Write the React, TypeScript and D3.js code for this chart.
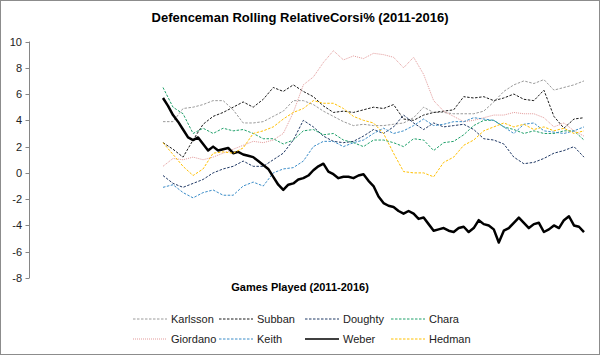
import React from "react";
import * as d3 from "d3";

const yTicks = [10, 8, 6, 4, 2, 0, -2, -4, -6, -8];

const karlsson = [3.9,3.9,4.9,5.0,5.2,5.5,5.5,4.8,3.8,3.8,3.9,4.3,4.7,5.5,5.5,5.2,4.7,4.3,3.9,3.6,3.7,3.6,3.6,3.7,3.8,4.2,5.0,4.6,4.6,4.5,4.5,4.5,4.7,5.4,6.2,6.7,7.0,6.8,7.1,6.3,6.5,6.7,7.0];
const subban = [2.3,1.8,1.2,2.5,3.7,4.3,4.6,5.0,5.4,5.0,5.6,6.5,6.2,6.7,6.2,5.8,5.1,4.6,4.7,4.6,4.8,5.0,4.9,5.2,4.1,4.0,4.4,4.6,4.7,4.8,5.8,5.7,5.8,5.5,5.7,6.0,5.6,5.5,6.3,4.3,3.4,4.1,4.2];
const doughty = [-0.2,-0.8,-1.1,-0.8,-0.5,0.0,0.3,0.5,0.9,0.5,0.5,1.0,1.5,2.5,4.0,3.5,2.8,2.4,2.3,2.4,2.8,3.3,3.0,3.5,4.4,3.8,3.3,3.8,3.5,3.6,3.7,3.3,2.6,2.5,2.2,1.2,0.7,0.8,1.1,1.5,1.7,2.0,1.2];
const chara = [6.5,5.0,4.5,3.0,3.4,3.0,3.4,3.2,3.3,3.0,2.6,2.6,2.2,2.5,3.2,3.3,2.9,3.0,2.5,2.3,2.0,2.5,2.5,2.3,2.0,2.6,2.5,1.7,2.3,2.4,2.9,3.6,4.0,4.0,3.5,3.3,3.0,3.2,3.0,3.0,3.2,3.2,2.5];
const giordano = [0.5,1.1,1.0,1.2,1.0,1.2,1.5,1.8,2.1,2.4,2.3,2.5,3.0,4.6,6.7,7.3,8.4,9.3,8.6,8.9,8.7,9.1,9.0,8.8,8.0,8.8,7.5,5.5,4.7,4.3,3.9,4.0,4.2,4.4,4.4,4.6,4.5,4.5,4.2,3.5,3.8,3.2,2.8];
const keith = [-1.1,-0.9,-1.5,-1.9,-1.5,-1.3,-1.7,-1.7,-1.0,-0.7,-1.0,0.0,0.3,0.4,0.9,2.0,2.4,2.4,2.0,2.3,2.5,3.0,3.4,3.0,3.2,3.6,4.1,3.6,3.7,3.9,3.9,4.2,4.1,4.0,3.5,3.0,3.7,3.8,3.2,3.1,3.0,3.2,3.5];
const weber = [5.7,5.1,4.4,3.9,3.3,2.7,2.5,2.7,2.2,1.7,2.0,1.7,1.8,1.9,1.5,1.6,1.4,1.3,1.2,0.9,0.6,0.3,-0.3,-0.9,-1.3,-0.9,-0.8,-0.5,-0.4,-0.2,0.2,0.5,0.7,0.1,-0.1,-0.4,-0.3,-0.3,-0.4,-0.2,-0.1,-0.6,-1.0,-1.8,-2.3,-2.5,-2.6,-2.9,-3.1,-2.9,-3.1,-3.5,-3.4,-3.9,-4.4,-4.3,-4.2,-4.4,-4.5,-4.2,-4.1,-4.5,-4.2,-3.6,-3.9,-4.0,-4.3,-5.3,-4.4,-4.2,-3.8,-3.4,-3.8,-4.2,-3.9,-3.8,-4.5,-4.3,-4.0,-4.2,-3.6,-3.3,-4.0,-4.1,-4.5];
const hedman = [2.3,1.4,0.5,-0.2,0.3,1.5,1.6,1.5,1.9,3.0,3.2,3.5,4.1,4.6,4.9,5.5,5.3,5.3,4.9,4.3,4.0,3.8,3.0,1.5,0.1,0.0,0.0,-0.3,0.8,1.2,2.1,2.5,3.2,3.5,3.8,3.5,3.7,3.3,3.5,3.2,3.4,3.0,3.2];

const seriesNames = ["Karlsson", "Subban", "Doughty", "Chara", "Giordano", "Keith", "Weber", "Hedman"];
const seriesData = [karlsson, subban, doughty, chara, giordano, keith, weber, hedman];

const styles: Record<string, { color: string; width: number; dash: string }> = {
  Karlsson: { color: "#9a9a9a", width: 1, dash: "2.5,1.5" },
  Subban: { color: "#1a1a1a", width: 1, dash: "2.5,1.5" },
  Doughty: { color: "#1f3864", width: 1, dash: "2.5,1.5" },
  Chara: { color: "#1fa06a", width: 1, dash: "2.5,1.5" },
  Giordano: { color: "#e39a9a", width: 1, dash: "1,1" },
  Keith: { color: "#3a8cc8", width: 1, dash: "2.5,1.5" },
  Weber: { color: "#000000", width: 2.5, dash: "" },
  Hedman: { color: "#ffc000", width: 1, dash: "2.5,1.5" },
};

const W = 601;
const H = 356;
const plotLeft = 163;
const plotRight = 584;
const axisX = 29.5;

export default function App() {
  const y = d3.scaleLinear().domain([-8, 10]).range([278, 41.5]);
  const x = d3.scaleLinear().domain([0, 1]).range([plotLeft, plotRight]);

  const legendCols = [133, 219, 305, 391];
  const legendRows = [319, 339];

  return (
    <svg width={W} height={H} style={{ position: "absolute", left: 0, top: 0 }} fontFamily="Liberation Sans, Arial, sans-serif">
      <rect x={0} y={0} width={W} height={H} fill="#fff" />
      <rect x={0.5} y={0.5} width={599} height={354} fill="none" stroke="#8c8c8c" strokeWidth={1} />
      <text x={300} y={22} textAnchor="middle" fontSize={13} fontWeight="bold" fill="#000">
        Defenceman Rolling RelativeCorsi% (2011-2016)
      </text>
      <line x1={axisX} x2={axisX} y1={y(10)} y2={y(-8)} stroke="#868686" />
      {yTicks.map((t) => (
        <g key={t}>
          <line x1={axisX - 4} x2={axisX} y1={Math.round(y(t)) + 0.5} y2={Math.round(y(t)) + 0.5} stroke="#868686" />
          <text x={22} y={y(t) + 4} textAnchor="end" fontSize={11} fill="#222">
            {t}
          </text>
        </g>
      ))}
      {seriesNames.map((name, k) => {
        const data = seriesData[k];
        const n = data.length;
        const line = d3
          .line<number>()
          .x((_, i) => x(i / (n - 1)))
          .y((v) => y(v));
        const s = styles[name];
        return (
          <path
            key={name}
            d={line(data) || ""}
            fill="none"
            stroke={s.color}
            strokeWidth={s.width}
            strokeDasharray={s.dash || undefined}
            strokeLinejoin="round"
          />
        );
      })}
      <text x={300} y={291} textAnchor="middle" fontSize={11} fontWeight="bold" fill="#000">
        Games Played (2011-2016)
      </text>
      {seriesNames.map((name, k) => {
        const col = k % 4;
        const row = Math.floor(k / 4);
        const lx = legendCols[col];
        const ly = legendRows[row];
        const s = styles[name];
        return (
          <g key={name}>
            <line x1={lx} x2={lx + 34} y1={ly} y2={ly} stroke={s.color} strokeWidth={name === "Weber" ? 1.5 : 1} strokeDasharray={s.dash || undefined} />
            <text x={lx + 38} y={ly + 4} fontSize={11} fill="#222">
              {name}
            </text>
          </g>
        );
      })}
    </svg>
  );
}
